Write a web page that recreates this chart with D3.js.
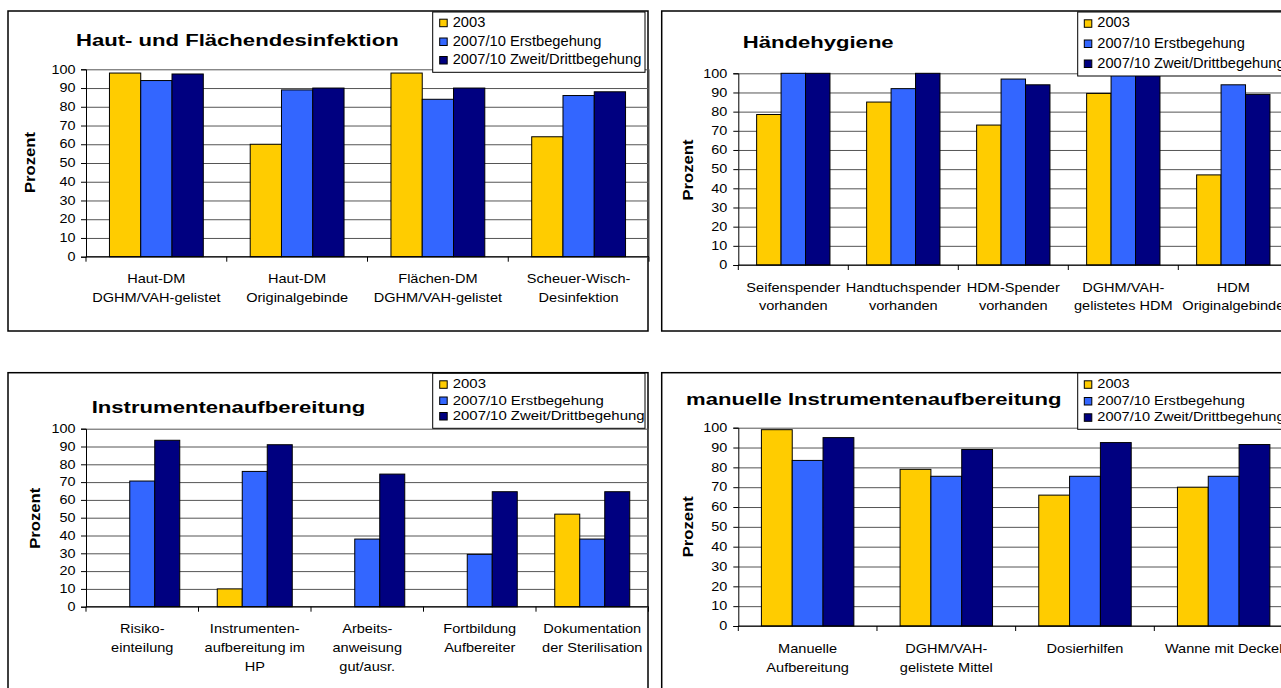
<!DOCTYPE html>
<html>
<head>
<meta charset="utf-8">
<script src="https://cdn.jsdelivr.net/npm/d3@7"></script>
<style>
  html, body { margin: 0; padding: 0; background: #ffffff; }
  svg { display: block; }
  text { font-family: "Liberation Sans", Arial, sans-serif; fill: #000; }
</style>
</head>
<body>
<svg id="chart" width="1281" height="688"></svg>
<script>
// ---- data ---------------------------------------------------------------
const seriesNames = ["2003", "2007/10 Erstbegehung", "2007/10 Zweit/Drittbegehung"];
const seriesColors = ["#FFCC00", "#3366FF", "#000080"];
const yTickValues = [0, 10, 20, 30, 40, 50, 60, 70, 80, 90, 100];
const yAxisTitle = "Prozent";

// Haut- und Flächendesinfektion
const flaecheTitle = "Haut- und Flächendesinfektion";
const flaecheCategories = [
  ["Haut-DM", "DGHM/VAH-gelistet"],
  ["Haut-DM", "Originalgebinde"],
  ["Flächen-DM", "DGHM/VAH-gelistet"],
  ["Scheuer-Wisch-", "Desinfektion"]
];
const flaeche2003 = [98, 60, 98, 64];
const flaecheErst = [94, 89, 84, 86];
const flaecheZweit = [97.5, 90, 90, 88];

// Händehygiene
const haendeTitle = "Händehygiene";
const haendeCategories = [
  ["Seifenspender", "vorhanden"],
  ["Handtuchspender", "vorhanden"],
  ["HDM-Spender", "vorhanden"],
  ["DGHM/VAH-", "gelistetes HDM"],
  ["HDM", "Originalgebinde"]
];
const haende2003 = [78.5, 85, 73, 89.5, 47];
const haendeErst = [100, 92, 97, 100, 94];
const haendeZweit = [100, 100, 94, 100, 89];

// Instrumentenaufbereitung
const instrTitle = "Instrumentenaufbereitung";
const instrCategories = [
  ["Risiko-", "einteilung"],
  ["Instrumenten-", "aufbereitung im", "HP"],
  ["Arbeits-", "anweisung", "gut/ausr."],
  ["Fortbildung", "Aufbereiter"],
  ["Dokumentation", "der Sterilisation"]
];
const instr2003 = [0, 10, 0, 0, 52];
const instrErst = [70.6, 76, 38, 29.4, 38];
const instrZweit = [93.5, 91, 74.5, 64.6, 64.6];

// manuelle Instrumentenaufbereitung
const manuellTitle = "manuelle Instrumentenaufbereitung";
const manuellCategories = [
  ["Manuelle", "Aufbereitung"],
  ["DGHM/VAH-", "gelistete Mittel"],
  ["Dosierhilfen"],
  ["Wanne mit Deckel"]
];
const manuell2003 = [99, 79, 66, 70];
const manuellErst = [83.5, 75.5, 75.5, 75.5];
const manuellZweit = [95, 89, 92.5, 91.5];

// ---- layout of the four panels -------------------------------------------
const panels = [
  {
    title: flaecheTitle, categories: flaecheCategories,
    values: [flaeche2003, flaecheErst, flaecheZweit],
    frame: { x: 8, y: 11, w: 640, h: 320 },
    plot: { x: 86, y: 69.3, w: 563, h: 187.4 },
    titlePos: { x: 76, y: 45.5 },
    legend: { x: 432.7, y: 12, w: 212.3, h: 60.3, textX: 452.7, rows: [26.7, 45.5, 64], size: 14, sx: 1.05 },
    axisTitle: { x: 35, y: 162.5 },
    tickRight: 75.5,
    catFirst: 26.5, catStep: 19
  },
  {
    title: haendeTitle, categories: haendeCategories,
    values: [haende2003, haendeErst, haendeZweit],
    frame: { x: 661.7, y: 11, w: 700, h: 320 },
    plot: { x: 738.3, y: 73.3, w: 550, h: 191.7 },
    titlePos: { x: 742.7, y: 48.3 },
    legend: { x: 1077.7, y: 12, w: 260, h: 64, textX: 1097.3, rows: [27.3, 47.5, 67.5], size: 14.3, sx: 1.02 },
    axisTitle: { x: 692.5, y: 170 },
    tickRight: 727.3,
    catFirst: 26.7, catStep: 18.6
  },
  {
    title: instrTitle, categories: instrCategories,
    values: [instr2003, instrErst, instrZweit],
    frame: { x: 8, y: 372.7, w: 640, h: 340 },
    plot: { x: 86, y: 428.7, w: 562.5, h: 178 },
    titlePos: { x: 91.7, y: 412.7 },
    legend: { x: 432.7, y: 373.3, w: 212.3, h: 55, textX: 452.7, rows: [388.3, 404.5, 420], size: 13, sx: 1.15 },
    axisTitle: { x: 40, y: 518.3 },
    tickRight: 75.5,
    catFirst: 26.6, catStep: 19
  },
  {
    title: manuellTitle, categories: manuellCategories,
    values: [manuell2003, manuellErst, manuellZweit],
    frame: { x: 661.7, y: 372.7, w: 700, h: 340 },
    plot: { x: 738.3, y: 427.7, w: 554.7, h: 198.3 },
    titlePos: { x: 686, y: 405 },
    legend: { x: 1077.7, y: 373, w: 260, h: 56.3, textX: 1097.3, rows: [388.3, 405, 421.3], size: 13.5, sx: 1.08 },
    axisTitle: { x: 692.5, y: 526.7 },
    tickRight: 727.3,
    catFirst: 27.3, catStep: 18.5
  }
];

const svg = d3.select("#chart");

// text drawn with a slight horizontal stretch, anchored at (x, y)
function label(g, x, y, str, opt) {
  const o = Object.assign({ size: 13, bold: false, sx: 1.12, anchor: "start", rotate: 0 }, opt);
  const rot = o.rotate ? ` rotate(${o.rotate})` : "";
  return g.append("text")
    .attr("transform", `translate(${x},${y})${rot} scale(${o.sx},1)`)
    .attr("text-anchor", o.anchor)
    .attr("font-size", o.size)
    .attr("font-weight", o.bold ? "bold" : "normal")
    .text(str);
}

panels.forEach(p => {
  const g = svg.append("g");
  const { plot } = p;

  // outer chart frame
  g.append("rect")
    .attr("x", p.frame.x).attr("y", p.frame.y)
    .attr("width", p.frame.w).attr("height", p.frame.h)
    .attr("fill", "#fff").attr("stroke", "#000").attr("stroke-width", 1.5);

  const catIndex = p.categories.map((_, i) => i);
  const x0 = d3.scaleBand().domain(catIndex)
    .range([plot.x, plot.x + plot.w])
    .paddingInner(1 / 3).paddingOuter(1 / 6);
  const x1 = d3.scaleBand().domain(seriesNames.map((_, i) => i))
    .range([0, x0.bandwidth()]).padding(0);
  const y = d3.scaleLinear().domain([0, 100]).range([plot.y + plot.h, plot.y]);
  const step = plot.w / p.categories.length;

  // horizontal gridlines
  g.append("g")
    .attr("transform", `translate(${plot.x},0)`)
    .call(d3.axisLeft(y).tickValues(yTickValues).tickSize(-plot.w).tickFormat(""))
    .call(a => a.select(".domain").remove())
    .call(a => a.selectAll("line").attr("stroke", "#555").attr("stroke-width", 1));

  // plot area right border
  g.append("line")
    .attr("x1", plot.x + plot.w).attr("x2", plot.x + plot.w)
    .attr("y1", plot.y).attr("y2", plot.y + plot.h)
    .attr("stroke", "#555");

  // bars
  const rows = p.categories.map((c, ci) => seriesNames.map((s, si) => ({ ci, si, v: p.values[si][ci] })));
  g.append("g").selectAll("g").data(rows).join("g")
    .attr("transform", (d, i) => `translate(${x0(i)},0)`)
    .selectAll("rect").data(d => d).join("rect")
    .attr("x", d => x1(d.si))
    .attr("y", d => y(d.v))
    .attr("width", x1.bandwidth())
    .attr("height", d => y(0) - y(d.v))
    .attr("fill", d => seriesColors[d.si])
    .attr("stroke", d => d.v > 0 ? "#000" : "none")
    .attr("stroke-width", 1);

  // y axis with outward ticks
  g.append("g")
    .attr("transform", `translate(${plot.x},0)`)
    .call(d3.axisLeft(y).tickValues(yTickValues).tickSize(5).tickFormat(""))
    .call(a => a.selectAll("line, path").attr("stroke", "#000"));

  // x axis with ticks at the category boundaries
  const boundaries = d3.range(p.categories.length + 1).map(i => plot.x + i * step);
  g.append("line")
    .attr("x1", plot.x).attr("x2", plot.x + plot.w)
    .attr("y1", y(0)).attr("y2", y(0))
    .attr("stroke", "#000");
  g.append("g").selectAll("line").data(boundaries).join("line")
    .attr("x1", d => d).attr("x2", d => d)
    .attr("y1", y(0)).attr("y2", y(0) + 5)
    .attr("stroke", "#000");

  // y tick labels
  yTickValues.forEach(t => {
    label(g, p.tickRight, y(t) + 4.2, String(t), { size: 12, sx: 1.2, anchor: "end" });
  });

  // category labels
  p.categories.forEach((lines, i) => {
    const cx = x0(i) + x0.bandwidth() / 2;
    lines.forEach((ln, li) => {
      label(g, cx, y(0) + p.catFirst + li * p.catStep, ln, { size: 13, sx: 1.12, anchor: "middle" });
    });
  });

  // axis title
  label(g, p.axisTitle.x, p.axisTitle.y, yAxisTitle,
    { size: 14.5, bold: true, sx: 1.15, anchor: "middle", rotate: -90 });

  // chart title
  label(g, p.titlePos.x, p.titlePos.y, p.title, { size: 17, bold: true, sx: 1.3, anchor: "start" });

  // legend
  const L = p.legend;
  const lg = g.append("g");
  lg.append("rect")
    .attr("x", L.x).attr("y", L.y).attr("width", L.w).attr("height", L.h)
    .attr("fill", "#fff").attr("stroke", "#000").attr("stroke-width", 1);
  seriesNames.forEach((name, i) => {
    lg.append("rect")
      .attr("x", L.textX - 13).attr("y", L.rows[i] - 7.5)
      .attr("width", 7.5).attr("height", 7.5)
      .attr("fill", seriesColors[i]).attr("stroke", "#000").attr("stroke-width", 1);
    label(lg, L.textX, L.rows[i], name, { size: L.size, sx: L.sx, anchor: "start" });
  });
});
</script>
</body>
</html>
